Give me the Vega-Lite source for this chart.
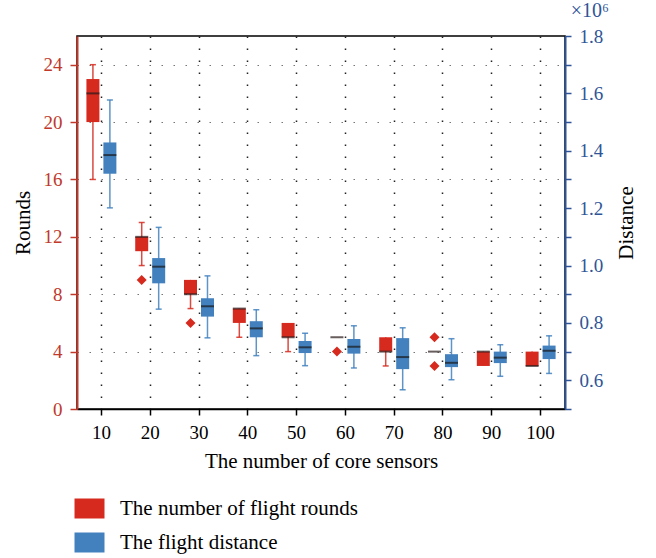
{
  "$schema": "https://vega.github.io/schema/vega-lite/v6.json",
  "width": 488,
  "height": 373,
  "padding": {"left": 12, "top": 1, "right": 5, "bottom": 5},
  "title": {"text": "×10⁶", "anchor": "end", "frame": "group", "dx": 44, "color": "#2f5597", "font": "Liberation Serif", "fontSize": 20, "fontWeight": "normal", "offset": 6},
  "config": {
    "view": {"stroke": "#000", "strokeWidth": 1.5},
    "font": "Liberation Serif",
    "axis": {"labelFont": "Liberation Serif", "titleFont": "Liberation Serif", "labelFontSize": 19, "titleFontSize": 21, "titleFontWeight": "normal", "titleColor": "#000"},
    "legend": {"orient": "none", "legendX": 2, "legendY": 462, "direction": "vertical", "padding": 0, "labelFont": "Liberation Serif", "labelFontSize": 21, "labelColor": "#000", "symbolType": "M-1.5,-1H1.5V1H-1.5Z", "symbolSize": 400, "symbolStrokeWidth": 0, "rowPadding": 12, "labelOffset": 20, "labelLimit": 400}
  },
  "datasets": {
    "rounds": [
      {"n": 10, "series": "The number of flight rounds", "min": 16, "q1": 20, "median": 22, "q3": 23, "max": 24},
      {"n": 20, "series": "The number of flight rounds", "min": 10, "q1": 11, "median": 12, "q3": 12, "max": 13},
      {"n": 30, "series": "The number of flight rounds", "min": 7, "q1": 8, "median": 8, "q3": 9, "max": 9},
      {"n": 40, "series": "The number of flight rounds", "min": 5, "q1": 6, "median": 7, "q3": 7, "max": 7},
      {"n": 50, "series": "The number of flight rounds", "min": 4, "q1": 5, "median": 5, "q3": 6, "max": 6},
      {"n": 60, "series": "The number of flight rounds", "min": 5, "q1": 5, "median": 5, "q3": 5, "max": 5},
      {"n": 70, "series": "The number of flight rounds", "min": 3, "q1": 4, "median": 4, "q3": 5, "max": 5},
      {"n": 80, "series": "The number of flight rounds", "min": 4, "q1": 4, "median": 4, "q3": 4, "max": 4},
      {"n": 90, "series": "The number of flight rounds", "min": 3, "q1": 3, "median": 4, "q3": 4, "max": 4},
      {"n": 100, "series": "The number of flight rounds", "min": 3, "q1": 3, "median": 3, "q3": 4, "max": 4}
    ],
    "roundsOutliers": [
      {"n": 20, "series": "The number of flight rounds", "value": 9},
      {"n": 30, "series": "The number of flight rounds", "value": 6},
      {"n": 60, "series": "The number of flight rounds", "value": 4},
      {"n": 80, "series": "The number of flight rounds", "value": 5},
      {"n": 80, "series": "The number of flight rounds", "value": 3}
    ],
    "distance": [
      {"n": 10, "series": "The flight distance", "min": 1201000, "q1": 1320000, "median": 1385000, "q3": 1429000, "max": 1577000},
      {"n": 20, "series": "The flight distance", "min": 848000, "q1": 938000, "median": 996000, "q3": 1026000, "max": 1133000},
      {"n": 30, "series": "The flight distance", "min": 748000, "q1": 822000, "median": 858000, "q3": 886000, "max": 964000},
      {"n": 40, "series": "The flight distance", "min": 686000, "q1": 750000, "median": 781000, "q3": 806000, "max": 846000},
      {"n": 50, "series": "The flight distance", "min": 651000, "q1": 695000, "median": 715000, "q3": 737000, "max": 764000},
      {"n": 60, "series": "The flight distance", "min": 643000, "q1": 693000, "median": 717000, "q3": 744000, "max": 790000},
      {"n": 70, "series": "The flight distance", "min": 567000, "q1": 639000, "median": 681000, "q3": 747000, "max": 783000},
      {"n": 80, "series": "The flight distance", "min": 602000, "q1": 646000, "median": 661000, "q3": 691000, "max": 745000},
      {"n": 90, "series": "The flight distance", "min": 614000, "q1": 660000, "median": 679000, "q3": 700000, "max": 724000},
      {"n": 100, "series": "The flight distance", "min": 624000, "q1": 674000, "median": 703000, "q3": 721000, "max": 755000}
    ]
  },
  "encoding": {
    "x": {"field": "n", "type": "ordinal", "scale": {"paddingInner": 0, "paddingOuter": 0},
      "axis": {"title": "The number of core sensors", "labelAngle": 0, "labelColor": "#000", "domainColor": "#000", "domainWidth": 1.5, "tickColor": "#000", "tickSize": 6, "tickWidth": 1.5, "bandPosition": 0.5, "grid": true, "gridDash": [1.5, 10.5], "gridColor": "#222", "gridWidth": 1.5, "titlePadding": 8, "labelPadding": 8}},
    "xOffset": {"field": "series", "type": "nominal", "scale": {"domain": ["The number of flight rounds", "The flight distance"], "paddingInner": 0.235, "paddingOuter": 0.555}}
  },
  "layer": [
    {
      "layer": [
        {"data": {"name": "rounds"},
         "mark": {"type": "rule", "color": "#d62a1f", "strokeWidth": 1.5, "opacity": 0.85},
         "encoding": {
           "y": {"field": "min", "type": "quantitative", "title": "Rounds", "scale": {"domain": [0, 26], "nice": false},
             "axis": {"orient": "left", "title": "Rounds", "values": [0, 2, 4, 6, 8, 10, 12, 14, 16, 18, 20, 22, 24, 26], "labelExpr": "datum.value % 4 === 0 ? datum.label : ''", "labelColor": "#c0392b", "domainColor": "#c0392b", "domainWidth": 2, "tickColor": "#c0392b", "tickWidth": 1.5, "tickSize": 7, "labelPadding": 8, "grid": true, "gridDash": [1.5, 10.5], "gridColor": "#777", "gridWidth": 1.2, "titlePadding": 10}},
           "y2": {"field": "max"}
         }},
        {"data": {"name": "rounds"},
         "transform": [{"filter": "datum.max > datum.q3"}],
         "mark": {"type": "tick", "color": "#d62a1f", "size": 6, "thickness": 1.5, "opacity": 0.85},
         "encoding": {"y": {"field": "max", "type": "quantitative", "title": "Rounds"}}},
        {"data": {"name": "rounds"},
         "transform": [{"filter": "datum.min < datum.q1"}],
         "mark": {"type": "tick", "color": "#d62a1f", "size": 6, "thickness": 1.5, "opacity": 0.85},
         "encoding": {"y": {"field": "min", "type": "quantitative", "title": "Rounds"}}},
        {"data": {"name": "rounds"},
         "mark": {"type": "bar", "width": 13},
         "encoding": {
           "y": {"field": "q1", "type": "quantitative", "title": "Rounds"},
           "y2": {"field": "q3"},
           "color": {"field": "series", "type": "nominal", "title": null, "scale": {"domain": ["The number of flight rounds", "The flight distance"], "range": ["#d62a1f", "#4281be"]}}
         }},
        {"data": {"name": "rounds"},
         "mark": {"type": "tick", "color": "#2a1a1a", "size": 13, "thickness": 2},
         "encoding": {"y": {"field": "median", "type": "quantitative", "title": "Rounds"}}},
        {"data": {"name": "roundsOutliers"},
         "mark": {"type": "point", "shape": "diamond", "filled": true, "color": "#d62a1f", "size": 100, "opacity": 1},
         "encoding": {"y": {"field": "value", "type": "quantitative", "title": "Rounds"}}}
      ]
    },
    {
      "layer": [
        {"data": {"name": "distance"},
         "mark": {"type": "rule", "color": "#4281be", "strokeWidth": 1.5, "opacity": 0.85},
         "encoding": {
           "y": {"field": "min", "type": "quantitative", "title": "Distance", "scale": {"domain": [500000, 1800000], "nice": false, "zero": false},
             "axis": {"orient": "right", "title": "Distance", "titleAngle": 270, "values": [500000, 600000, 700000, 800000, 900000, 1000000, 1100000, 1200000, 1300000, 1400000, 1500000, 1600000, 1700000, 1800000], "labelExpr": "datum.value % 200000 === 0 ? format(datum.value / 1000000, '.1f') : ''", "labelColor": "#2f5597", "domainColor": "#2f5597", "domainWidth": 2, "tickColor": "#2f5597", "tickWidth": 1.5, "tickSize": 6, "labelPadding": 8, "grid": false, "titlePadding": 34}},
           "y2": {"field": "max"}
         }},
        {"data": {"name": "distance"},
         "mark": {"type": "tick", "color": "#4281be", "size": 6, "thickness": 1.5, "opacity": 0.85},
         "encoding": {"y": {"field": "max", "type": "quantitative", "title": "Distance", "axis": {"orient": "right", "title": "Distance", "titleAngle": 270, "values": [500000, 600000, 700000, 800000, 900000, 1000000, 1100000, 1200000, 1300000, 1400000, 1500000, 1600000, 1700000, 1800000], "labelExpr": "datum.value % 200000 === 0 ? format(datum.value / 1000000, '.1f') : ''", "labelColor": "#2f5597", "domainColor": "#2f5597", "domainWidth": 2, "tickColor": "#2f5597", "tickWidth": 1.5, "tickSize": 6, "labelPadding": 8, "grid": false, "titlePadding": 34}}}},
        {"data": {"name": "distance"},
         "mark": {"type": "tick", "color": "#4281be", "size": 6, "thickness": 1.5, "opacity": 0.85},
         "encoding": {"y": {"field": "min", "type": "quantitative", "title": "Distance", "axis": {"orient": "right", "title": "Distance", "titleAngle": 270, "values": [500000, 600000, 700000, 800000, 900000, 1000000, 1100000, 1200000, 1300000, 1400000, 1500000, 1600000, 1700000, 1800000], "labelExpr": "datum.value % 200000 === 0 ? format(datum.value / 1000000, '.1f') : ''", "labelColor": "#2f5597", "domainColor": "#2f5597", "domainWidth": 2, "tickColor": "#2f5597", "tickWidth": 1.5, "tickSize": 6, "labelPadding": 8, "grid": false, "titlePadding": 34}}}},
        {"data": {"name": "distance"},
         "mark": {"type": "bar", "width": 13},
         "encoding": {
           "y": {"field": "q1", "type": "quantitative", "title": "Distance", "axis": {"orient": "right", "title": "Distance", "titleAngle": 270, "values": [500000, 600000, 700000, 800000, 900000, 1000000, 1100000, 1200000, 1300000, 1400000, 1500000, 1600000, 1700000, 1800000], "labelExpr": "datum.value % 200000 === 0 ? format(datum.value / 1000000, '.1f') : ''", "labelColor": "#2f5597", "domainColor": "#2f5597", "domainWidth": 2, "tickColor": "#2f5597", "tickWidth": 1.5, "tickSize": 6, "labelPadding": 8, "grid": false, "titlePadding": 34}},
           "y2": {"field": "q3"},
           "color": {"field": "series", "type": "nominal", "title": null, "scale": {"domain": ["The number of flight rounds", "The flight distance"], "range": ["#d62a1f", "#4281be"]}}
         }},
        {"data": {"name": "distance"},
         "mark": {"type": "tick", "color": "#1a1a1a", "size": 13, "thickness": 2},
         "encoding": {"y": {"field": "median", "type": "quantitative", "title": "Distance", "axis": {"orient": "right", "title": "Distance", "titleAngle": 270, "values": [500000, 600000, 700000, 800000, 900000, 1000000, 1100000, 1200000, 1300000, 1400000, 1500000, 1600000, 1700000, 1800000], "labelExpr": "datum.value % 200000 === 0 ? format(datum.value / 1000000, '.1f') : ''", "labelColor": "#2f5597", "domainColor": "#2f5597", "domainWidth": 2, "tickColor": "#2f5597", "tickWidth": 1.5, "tickSize": 6, "labelPadding": 8, "grid": false, "titlePadding": 34}}}}
      ]
    }
  ],
  "resolve": {"scale": {"y": "independent"}, "axis": {"y": "independent"}}
}
